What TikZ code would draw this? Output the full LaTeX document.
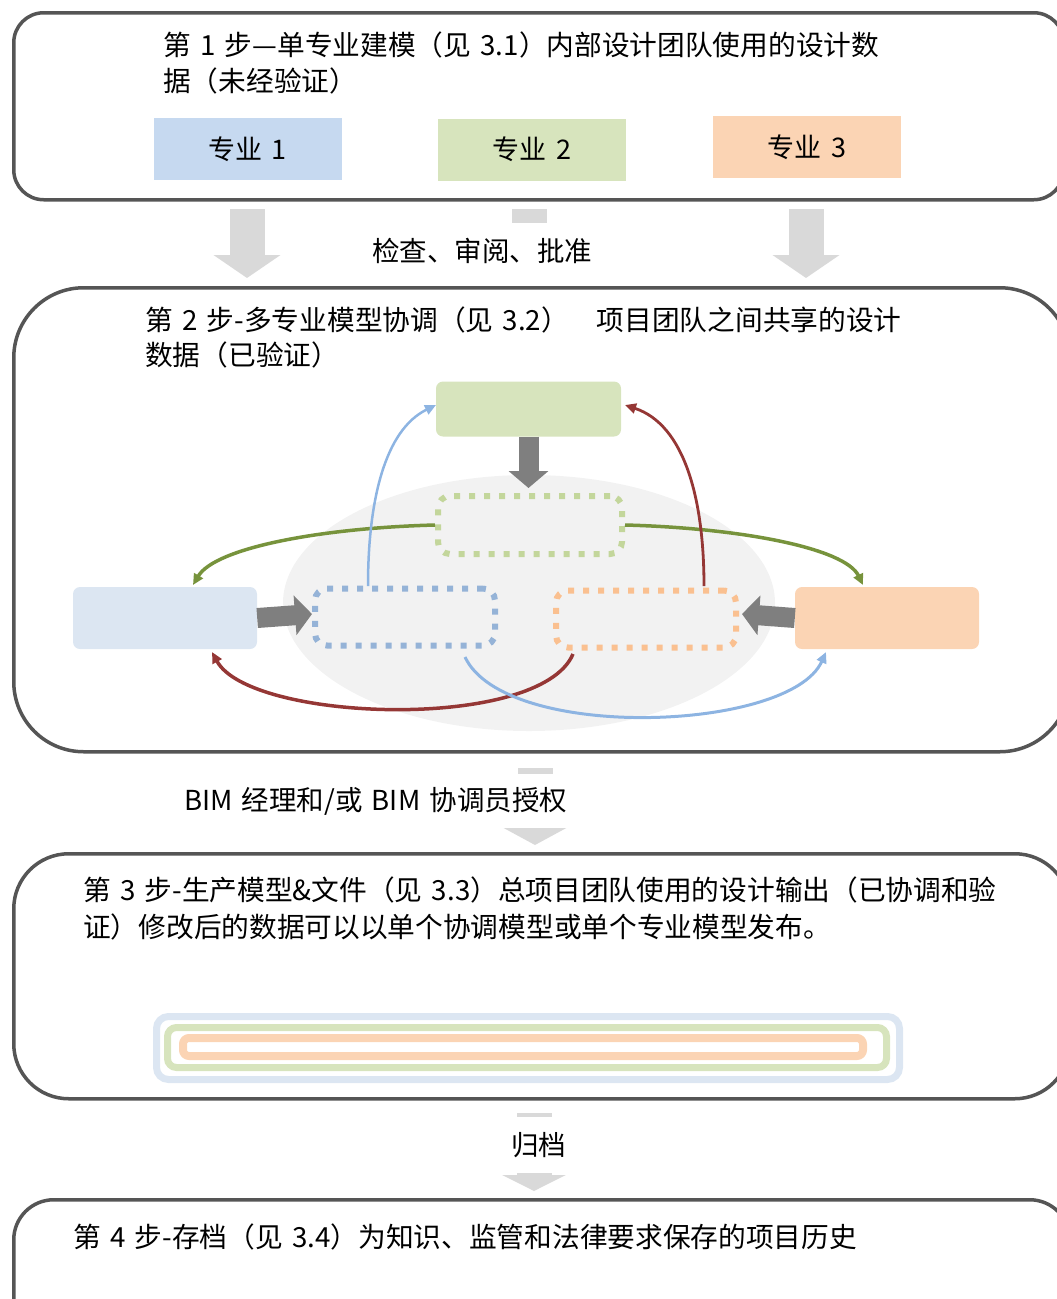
\documentclass[tikz,border=0pt]{standalone}
\usepackage{fontspec}
\setmainfont[WordSpace=1.5]{Noto Sans CJK SC}
\usetikzlibrary{arrows.meta,calc}
\definecolor{bordc}{HTML}{555555}
\definecolor{arrgray}{HTML}{D9D9D9}
\definecolor{dkgray}{HTML}{7F7F7F}
\definecolor{ellc}{HTML}{F2F2F2}
\definecolor{fblue}{HTML}{C6D9F0}
\definecolor{fbluel}{HTML}{DCE6F2}
\definecolor{fgreen}{HTML}{D7E4BD}
\definecolor{forange}{HTML}{FBD4B4}
\definecolor{dgreen}{HTML}{C3D69B}
\definecolor{dblue}{HTML}{95B3D7}
\definecolor{dorange}{HTML}{FAC090}
\definecolor{cblue}{HTML}{8DB4E2}
\definecolor{cred}{HTML}{953735}
\definecolor{cgreen}{HTML}{77933C}
\tikzset{
  bigbox/.style={draw=bordc, line width=3.5pt, anchor=north west, inner sep=0pt},
  txt/.style={anchor=base west, inner sep=0pt, font=\fontsize{27.7}{30}\selectfont},
  lbl/.style={fill=white, inner xsep=4pt, font=\fontsize{27.5}{30}\selectfont},
  discbox/.style={minimum width=188pt, minimum height=62pt, inner sep=0pt, font=\fontsize{27}{30}\selectfont},
  softbox/.style={rounded corners=7pt, inner sep=0pt, minimum height=62pt},
  dotbox/.style={draw, rounded corners=12pt, line width=6pt, dash pattern=on 6pt off 9pt, inner sep=0pt},
  blockarrow/.style={draw=arrgray, line width=35pt, -{Triangle[length=23pt,width=66pt]}},
  darrow/.style={draw=dkgray, line width=20pt, -{Triangle[length=17pt,width=39pt]}},
  curve/.style={line width=3pt, -{Triangle[length=11pt,width=10pt]}}
}
\begin{document}
\begin{tikzpicture}[x=1pt,y=-1pt]
\useasboundingbox (0,0) rectangle (1057,1299);
\clip (0,0) rectangle (1057,1299);

% ---------- big boxes ----------
\node[bigbox, rounded corners=30pt, minimum width=1050pt, minimum height=187pt] (s1) at (12,11) {};
\node[bigbox, rounded corners=70pt, minimum width=1056pt, minimum height=464pt] (s2) at (12,286) {};
\node[bigbox, rounded corners=55pt, minimum width=1056pt, minimum height=245pt] (s3) at (12,852) {};
\node[bigbox, rounded corners=40pt, minimum width=1056pt, minimum height=160pt] (s4) at (12,1198) {};

% ---------- step 1 ----------
\node[txt] (t1a) at (163,55) {第 1 步—单专业建模（见 3.1）内部设计团队使用的设计数};
\node[txt] (t1b) at (163,91) {据（未经验证）};
\node[discbox, fill=fblue] (d1) at (247.5,149) {专业 1};
\node[discbox, fill=fgreen] (d2) at (532,149.5) {专业 2};
\node[discbox, fill=forange] (d3) at (807,147) {专业 3};

% ---------- arrows 1 -> 2 ----------
\coordinate (a1s) at (247,209); \coordinate (a1e) at (247,278);
\coordinate (a2s) at (529,209); \coordinate (a2e) at (529,278);
\coordinate (a3s) at (806,209); \coordinate (a3e) at (806,278);
\draw[blockarrow] (a1s) -- (a1e);
\draw[blockarrow] (a2s) -- (a2e);
\draw[blockarrow] (a3s) -- (a3e);
\node[lbl, minimum height=57pt] (l1) at (482,251) {检查、审阅、批准};

% ---------- step 2 ----------
\node[txt] (t2a) at (145,330) {第 2 步-多专业模型协调（见 3.2）\ \ \ 项目团队之间共享的设计};
\node[txt] (t2b) at (145,365) {数据（已验证）};

\fill[ellc] (529,603) ellipse [x radius=246pt, y radius=128pt];

\node[softbox, fill=fgreen, minimum width=185pt, minimum height=55pt] (tg) at (528.5,409) {};
\node[softbox, fill=fbluel, minimum width=184pt] (lb) at (165,618) {};
\node[softbox, fill=forange, minimum width=184pt] (rb) at (887,618) {};

\node[dotbox, draw=dgreen, minimum width=184pt, minimum height=58pt] (gd) at (530,525) {};
\node[dotbox, draw=dblue, minimum width=180pt, minimum height=57pt] (bd) at (405,617) {};
\node[dotbox, draw=dorange, minimum width=180pt, minimum height=57pt] (od) at (646,619) {};

\draw[darrow] (tg.south) -- (528.5,488);
\draw[darrow] (lb.east) -- (312,614);
\draw[darrow] (rb.west) -- (742,614);

% curves
\draw[curve, cgreen, line width=3.5pt] (gd.west) .. controls (320,528) and (215,548) .. (193,585);
\draw[curve, cgreen, line width=3.5pt] (gd.east) .. controls (740,528) and (845,548) .. (863,585);
\draw[curve, cblue, line width=2.5pt] (368,586) .. controls (368,500) and (385,430) .. (436,405);
\draw[curve, cred, line width=2.8pt] (704,586) .. controls (704,500) and (685,425) .. (625,405);
\draw[curve, cred, line width=3.5pt] (573,654) .. controls (540,732) and (250,722) .. (212,652);
\draw[curve, cblue, line width=3pt] (465,657) .. controls (505,742) and (790,732) .. (826,652);

% ---------- arrow 2 -> 3 ----------
\coordinate (b1s) at (535,768); \coordinate (b1e) at (535,845);
\draw[blockarrow, -{Triangle[length=17pt,width=62pt]}] (b1s) -- (b1e);
\node[lbl, minimum height=54pt, anchor=west] (l2) at (180,801) {BIM 经理和/或 BIM 协调员授权};

% ---------- step 3 ----------
\node[txt] (t3a) at (83,900) {第 3 步-生产模型\&文件（见 3.3）总项目团队使用的设计输出（已协调和验};
\node[txt] (t3b) at (83,937) {证）修改后的数据可以以单个协调模型或单个专业模型发布。};
\draw[fbluel, line width=7pt, rounded corners=12pt] (156.5,1016.5) rectangle (899.5,1079.5);
\draw[fgreen, line width=7pt, rounded corners=9pt] (167.5,1027.5) rectangle (886.5,1067.5);
\draw[forange, line width=8pt, rounded corners=6pt] (183,1038) rectangle (863,1056);

% ---------- arrow 3 -> 4 ----------
\coordinate (c1s) at (534,1113); \coordinate (c1e) at (534,1191);
\draw[blockarrow, -{Triangle[length=16pt,width=63pt]}] (c1s) -- (c1e);
\node[lbl, minimum height=56pt] (l3) at (538.5,1145) {归档};

% ---------- step 4 ----------
\node[txt] (t4a) at (73,1247) {第 4 步-存档（见 3.4）为知识、监管和法律要求保存的项目历史};
\end{tikzpicture}
\end{document}
